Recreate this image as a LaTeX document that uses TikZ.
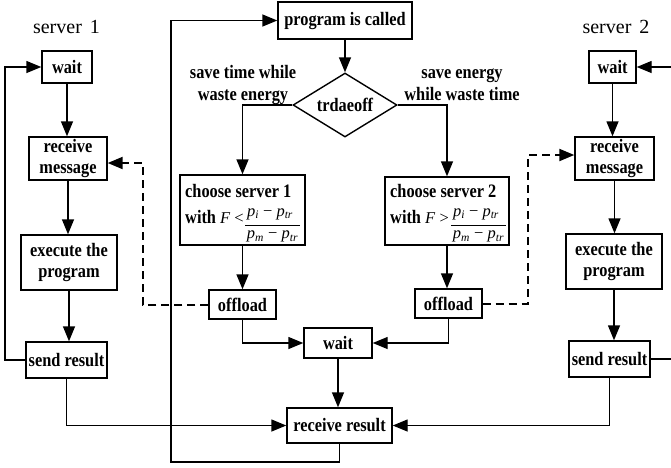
\documentclass[tikz,border=0pt]{standalone}
\usepackage{fontspec}
\setmainfont{Liberation Serif}[BoldFeatures={FakeStretch=0.86}]
\usetikzlibrary{arrows.meta,shapes.geometric,calc}
\newcommand\pp[1]{\textit{p}\textsubscript{\textit{#1}}}
\newcommand\fsm{\fontsize{16.5}{18}\selectfont}
\begin{document}
\begin{tikzpicture}[x=1pt,y=-1pt,
  box/.style={draw,line width=1.4pt,inner sep=0pt,align=center,font=\fontsize{19}{21.5}\selectfont\bfseries},
  txt/.style={inner sep=0pt,font=\fontsize{19}{21.5}\selectfont\bfseries},
  mth/.style={inner sep=0pt,font=\fsm},
  lbl/.style={align=center,inner sep=0pt,font=\fontsize{19}{22}\selectfont\bfseries},
  srv/.style={inner sep=0pt,font=\fontsize{20}{22}\selectfont},
  arr/.style={line width=1.4pt,-{Triangle[length=15pt,width=12pt]}},
  ln/.style={line width=1.4pt},
  bar/.style={line width=0.8pt},
  dsh/.style={line width=2pt,dash pattern=on 8pt off 5pt,-{Triangle[length=15pt,width=12pt]}}]
\useasboundingbox (0,0) rectangle (671,467);
% server 1
\node[srv] (s1) at (66.5,27) {server\hspace{0.4em}1};
\node[box,minimum width=50pt,minimum height=32pt] (w1) at (67,67) {wait};
\node[box,minimum width=78pt,minimum height=43pt] (rm1) at (68,158.5) {receive\\message};
\node[box,minimum width=96pt,minimum height=55pt] (ex1) at (69,262.5) {execute the\\program};
\node[box,minimum width=81pt,minimum height=36pt] (sr1) at (66.5,360) {send result};
% middle
\node[box,minimum width=134pt,minimum height=37pt] (prog) at (345,20.5) {program is called};
\node[draw,line width=1.4pt,diamond,aspect=1.625,minimum width=104pt,minimum height=64pt,inner sep=0pt,font=\fontsize{19}{21}\selectfont\bfseries] (dia) at (345,105) {trdaeoff};
\node[lbl] (l1) at (243,85) {save time while\\waste energy};
\node[lbl] (l2) at (462,85) {save energy\\while waste time};
% choose server 1
\node[box,minimum width=125pt,minimum height=70pt] (ch1) at (242.5,210) {};
\node[txt,anchor=base west] (ch1a) at (185,197) {choose server 1};
\node[txt,anchor=base west] (ch1b) at (185,223) {with \textmd{\fsm\textit{F} <}};
\node[mth,anchor=base] (n1) at (270,216) {\pp{i} − \pp{tr}};
\node[mth,anchor=base] (d1) at (272.5,238.5) {\pp{m} − \pp{tr}};
\coordinate (b1l) at (245,225.5);
\coordinate (b1r) at (300,225.5);
\draw[bar] (b1l) -- (b1r);
% choose server 2
\node[box,minimum width=124pt,minimum height=68pt] (ch2) at (447,211) {};
\node[txt,anchor=base west] (ch2a) at (390,197) {choose server 2};
\node[txt,anchor=base west] (ch2b) at (390,223) {with \textmd{\fsm\textit{F} >}};
\node[mth,anchor=base] (n2) at (476,216) {\pp{i} − \pp{tr}};
\node[mth,anchor=base] (d2) at (478.5,238.5) {\pp{m} − \pp{tr}};
\coordinate (b2l) at (451,225.5);
\coordinate (b2r) at (506,225.5);
\draw[bar] (b2l) -- (b2r);
\node[box,minimum width=67pt,minimum height=29pt] (off1) at (242.5,304.5) {offload};
\node[box,minimum width=67pt,minimum height=29pt] (off2) at (448.5,303.5) {offload};
\node[box,minimum width=68pt,minimum height=30pt] (wm) at (338,343) {wait};
\node[box,minimum width=105pt,minimum height=35pt] (rr) at (339.5,425.5) {receive result};
% server 2
\node[srv] (s2) at (616,27) {server\hspace{0.4em}2};
\node[box,minimum width=47pt,minimum height=32pt] (w2) at (612.5,67) {wait};
\node[box,minimum width=79pt,minimum height=43pt] (rm2) at (614.5,158.5) {receive\\message};
\node[box,minimum width=96pt,minimum height=55pt] (ex2) at (614,261.5) {execute the\\program};
\node[box,minimum width=81pt,minimum height=36pt] (sr2) at (609.5,359) {send result};
% coordinates
\coordinate (lc) at (5,67);
\coordinate (bl) at (171,462);
\coordinate (re1) at (671,67);
\coordinate (re2) at (671,359);
% connectors server 1
\draw[arr] (w1.south) -- (w1.south |- rm1.north);
\draw[arr] (rm1.south) -- (rm1.south |- ex1.north);
\draw[arr] (ex1.south) -- (ex1.south |- sr1.north);
\draw[arr] (sr1.west) -| (lc) -- (w1.west);
\draw[arr] (sr1.south) |- (rr.west);
% middle
\draw[arr] (rr.south) |- (bl) |- (prog.west);
\draw[arr] (prog.south) -- (dia.north);
\draw[arr] (dia.west) -| (ch1.north);
\draw[arr] (dia.east) -| (ch2.north);
\draw[arr] (ch1.south) -- (off1.north);
\draw[arr] (ch2.south) -- (ch2.south |- off2.north);
\draw[arr] (off1.south) |- (wm.west);
\draw[arr] (off2.south) |- (wm.east);
\draw[arr] (wm.south) -- (wm.south |- rr.north);
\draw[dsh] (off1.west) -- ++(-65,0) |- ($(rm1.east)+(0,4.5)$);
\draw[dsh] (off2.east) -- ++(45,0) |- ($(rm2.west)+(0,-3.5)$);
% server 2
\draw[arr] (re1) -- (w2.east);
\draw[arr] (w2.south) -- (w2.south |- rm2.north);
\draw[arr] (rm2.south) -- (rm2.south |- ex2.north);
\draw[arr] (ex2.south) -- (ex2.south |- sr2.north);
\draw[ln] (sr2.east) -- (re2);
\draw[arr] (sr2.south) |- (rr.east);
\end{tikzpicture}
\end{document}
